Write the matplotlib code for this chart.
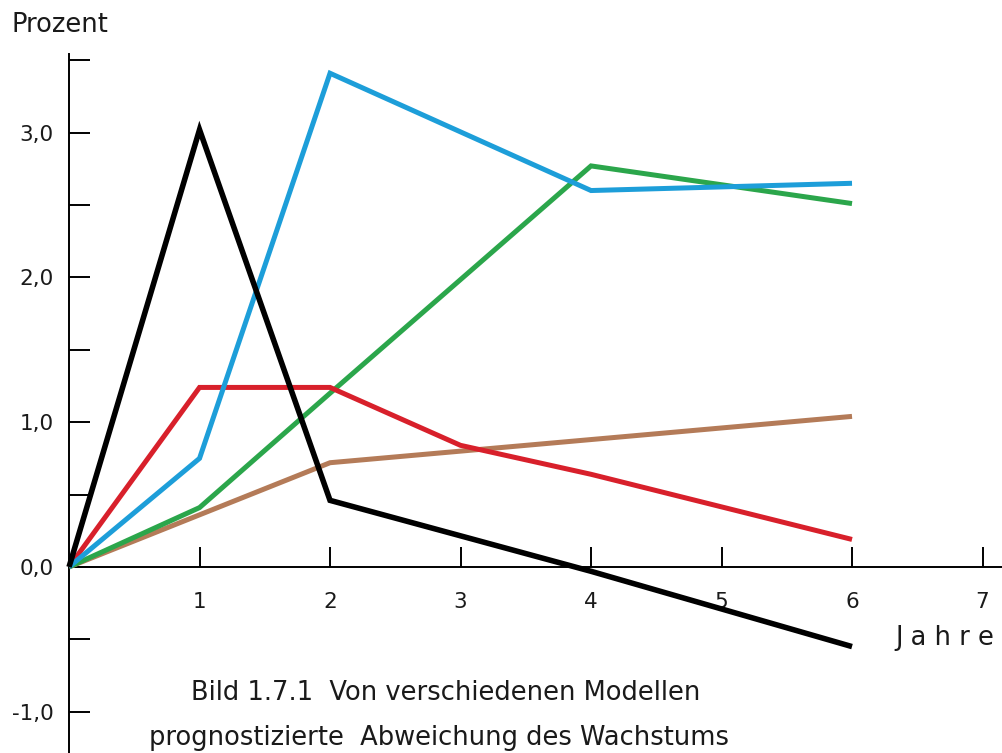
import matplotlib
matplotlib.use("Agg")
import matplotlib.pyplot as plt
from matplotlib.ticker import FixedLocator, FuncFormatter

# ---- data ----
years_black = [0, 1, 2, 4, 6]
black = [0.0, 3.02, 0.46, -0.03, -0.55]

years_blue = [0, 1, 2, 4, 6]
blue = [0.0, 0.75, 3.41, 2.60, 2.65]

years_green = [0, 1, 2, 4, 6]
green = [0.0, 0.41, 1.20, 2.77, 2.51]

years_red = [0, 1, 2, 3, 4, 6]
red = [0.0, 1.24, 1.24, 0.84, 0.64, 0.19]

years_brown = [0, 1, 2, 6]
brown = [0.0, 0.36, 0.72, 1.04]

x_ticks = [1, 2, 3, 4, 5, 6, 7]
y_major = [-1.0, 0.0, 1.0, 2.0, 3.0]
y_minor = [-0.5, 0.5, 1.5, 2.5, 3.5]

ylabel_text = "Prozent"
xlabel_text = "J a h r e"
caption_1 = "Bild 1.7.1  Von verschiedenen Modellen"
caption_2 = "prognostizierte  Abweichung des Wachstums"

# ---- figure ----
W, H = 1003, 753
fig = plt.figure(figsize=(W / 100, H / 100), dpi=100)
ax = fig.add_axes([0, 0, 1, 1])
ax.set_facecolor("white")
ax.set_xlim(-0.529, 7.157)
ax.set_ylim(-1.285, 3.916)

series = [
    (years_brown, brown, "#b47b58", 3.6),
    (years_green, green, "#2ba64b", 3.6),
    (years_red, red, "#d8202b", 3.6),
    (years_blue, blue, "#1d9ed9", 3.6),
    (years_black, black, "#000000", 4.0),
]
for xs, ys, c, lw in series:
    ax.plot(xs, ys, color=c, lw=lw, solid_joinstyle="miter",
            solid_capstyle="butt", zorder=3)

# spines through the origin
for s in ["top", "right"]:
    ax.spines[s].set_visible(False)
ax.spines["left"].set_position(("data", 0))
ax.spines["bottom"].set_position(("data", 0))
ax.spines["left"].set_bounds(-1.4, 3.54)
ax.spines["bottom"].set_bounds(0, 7.3)
ax.spines["left"].set_linewidth(1.4)
ax.spines["bottom"].set_linewidth(1.4)

ax.xaxis.set_major_locator(FixedLocator(x_ticks))
ax.yaxis.set_major_locator(FixedLocator(y_major))
ax.yaxis.set_minor_locator(FixedLocator(y_minor))
ax.yaxis.set_major_formatter(FuncFormatter(lambda v, p: f"{v:.1f}".replace(".", ",")))
ax.xaxis.set_major_formatter(FuncFormatter(lambda v, p: f"{int(v)}"))

ax.tick_params(axis="y", which="both", direction="in", length=15, width=1.4,
               pad=11, labelsize=15.5, colors="black")
ax.tick_params(axis="x", which="major", direction="in", length=14.5, width=1.4,
               pad=18, labelsize=15.5, colors="black")
for lab in ax.get_xticklabels() + ax.get_yticklabels():
    lab.set_color("#1a1a1a")

# texts
fig.text(12 / W, 1 - 32 / H, ylabel_text, fontsize=18.5, color="#1a1a1a",
         ha="left", va="baseline")
fig.text(895 / W, 1 - 645 / H, xlabel_text, fontsize=18.5, color="#1a1a1a",
         ha="left", va="baseline")
fig.text(446 / W, 1 - 700 / H, caption_1, fontsize=18.5, color="#1a1a1a",
         ha="center", va="baseline")
fig.text(439 / W, 1 - 745 / H, caption_2, fontsize=18.5, color="#1a1a1a",
         ha="center", va="baseline")

fig.savefig("out.png", dpi=100, facecolor="white")
